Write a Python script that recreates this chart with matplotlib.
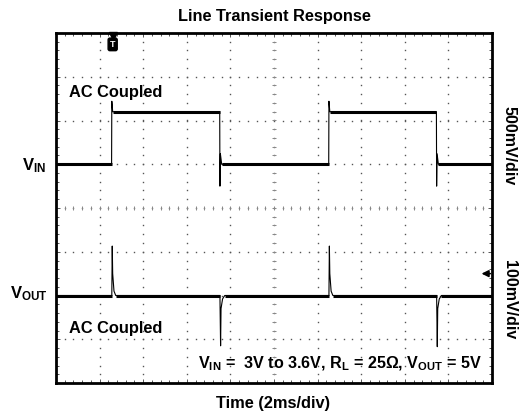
import numpy as np
import matplotlib
matplotlib.use("Agg")
import matplotlib.pyplot as plt

plt.rcParams['font.family'] = ['Liberation Sans', 'DejaVu Sans']
plt.rcParams['mathtext.fontset'] = 'custom'
plt.rcParams['mathtext.rm'] = 'Liberation Sans'
plt.rcParams['mathtext.bf'] = 'Liberation Sans:bold'

# scope settings
time_per_div = 2.0      # ms/div
vin_per_div = 0.5       # V/div
vout_per_div = 100.0    # mV/div
vin_offset = 1.0        # div (channel position)
vout_offset = -2.0      # div
vin_ref = 3.0           # V, AC coupled baseline

# VIN trace (ms, V)
vin_t = [0.0, 2.55, 2.56, 2.60, 7.51, 7.52, 7.54, 7.60,
         12.51, 12.52, 12.56, 17.45, 17.46, 17.48, 17.54, 20.0]
vin_v = [3.0, 3.0, 3.72, 3.60, 3.60, 2.75, 3.12, 3.0,
         3.0, 3.72, 3.60, 3.60, 2.75, 3.12, 3.0, 3.0]

# VOUT trace (ms, mV deviation, AC coupled)
vout_t = [0.0, 2.56, 2.58, 2.60, 2.66, 2.74,
          7.52, 7.55, 7.57, 7.64, 7.74,
          12.52, 12.54, 12.56, 12.62, 12.70,
          17.46, 17.49, 17.51, 17.58, 17.68, 20.0]
vout_mv = [0, 0, 113, 50, 10, 0,
           0, -115, -30, -8, 0,
           0, 113, 50, 10, 0,
           0, -117, -30, -8, 0, 0]

trigger_t = 2.6  # ms

W, H = 523, 419
fig = plt.figure(figsize=(W / 100, H / 100), dpi=100)
ax = fig.add_axes([56 / W, 1 - 383 / H, 436 / W, 350 / H])
ax.set_xlim(0, 10 * time_per_div)
ax.set_ylim(-4, 4)

# dotted graticule
for gx in range(1, 10):
    ys = np.arange(-4, 4.01, 0.2)
    ax.plot(np.full_like(ys, gx * time_per_div), ys, ls='none', marker='s',
            ms=1.0, mec='none', mfc='#555555', zorder=1)
for gy in range(-3, 4):
    xs = np.arange(0, 10.01, 0.2) * time_per_div
    ax.plot(xs, np.full_like(xs, gy), ls='none', marker='s',
            ms=1.0, mec='none', mfc='#555555', zorder=1)
# ticks on the centre crosshair
xs = np.arange(0, 10.01, 0.2) * time_per_div
ax.plot(xs, np.zeros_like(xs), ls='none', marker='|', ms=3, mew=0.7,
        color='#888888', zorder=1)
ys = np.arange(-4, 4.01, 0.2)
ax.plot(np.full_like(ys, 5 * time_per_div), ys, ls='none', marker='_', ms=3,
        mew=0.7, color='#888888', zorder=1)

ax.set_xticks(np.arange(0, 21, time_per_div))
ax.set_xticks(np.arange(0, 20.01, 0.2 * time_per_div), minor=True)
ax.set_yticks(np.arange(-4, 5, 1))
ax.set_yticks(np.arange(-4, 4.01, 0.2), minor=True)
ax.tick_params(which='both', direction='in', top=True, right=True,
               labelbottom=False, labelleft=False, color='#555555')
ax.tick_params(which='major', length=3, width=0.7)
ax.tick_params(which='minor', length=2.5, width=0.7)
for s in ax.spines.values():
    s.set_linewidth(2.0)


def draw_trace(t, y):
    t = np.asarray(t)
    y = np.asarray(y, dtype=float)
    ax.plot(t, y, color='black', lw=0.8, zorder=3)
    # flat stretches look thick because of trace noise
    for i in range(len(t) - 1):
        if t[i + 1] - t[i] > 0.1 and y[i] == y[i + 1]:
            ax.plot(t[i:i + 2], y[i:i + 2], color='black', lw=2.2,
                    solid_capstyle='butt', zorder=3)


draw_trace(vin_t, vin_offset + (np.array(vin_v) - vin_ref) / vin_per_div)
draw_trace(vout_t, vout_offset + np.array(vout_mv) / vout_per_div)

# trigger marker
ax.plot([trigger_t], [3.93], marker='v', ms=6, color='black',
        clip_on=False, zorder=5)
ax.text(trigger_t, 3.74, 'T', color='white', fontsize=6.5, fontweight='bold',
        ha='center', va='center', zorder=5,
        bbox=dict(boxstyle='round,pad=0.2', fc='black', ec='black'))

# channel 2 level arrow
ax.annotate('', xy=(19.52, -1.5), xytext=(19.92, -1.5),
            arrowprops=dict(arrowstyle='-|>', color='black', lw=1.2,
                            mutation_scale=10, shrinkA=0, shrinkB=0))

ax.text(0.6, 2.65, 'AC Coupled', fontsize=11.8, fontweight='bold',
        ha='left', va='center')
ax.text(0.6, -2.75, 'AC Coupled', fontsize=11.8, fontweight='bold',
        ha='left', va='center')


def px(x, y):
    return x / W, 1 - y / H


fig.text(*px(274, 16), 'Line Transient Response', fontsize=11.8,
         fontweight='bold', ha='center', va='center')
fig.text(*px(273, 403), 'Time (2ms/div)', fontsize=11.8,
         fontweight='bold', ha='center', va='center')
fig.text(*px(34, 166), r'$\mathbf{V_{IN}}$', fontsize=12,
         ha='center', va='center')
fig.text(*px(29, 294), r'$\mathbf{V_{OUT}}$', fontsize=12,
         ha='center', va='center')
fig.text(*px(509, 146), '500mV/div', fontsize=11.5, fontweight='bold',
         rotation=-90, ha='center', va='center')
fig.text(*px(509, 300), '100mV/div', fontsize=11.5, fontweight='bold',
         rotation=-90, ha='center', va='center')
fig.text(*px(482, 364),
         r'$\mathbf{V_{IN}}$ =  3V to 3.6V, $\mathbf{R_L}$ = 25Ω, '
         r'$\mathbf{V_{OUT}}$ = 5V',
         fontsize=11.6, fontweight='bold', ha='right', va='center')

fig.savefig('out.png', dpi=100)
